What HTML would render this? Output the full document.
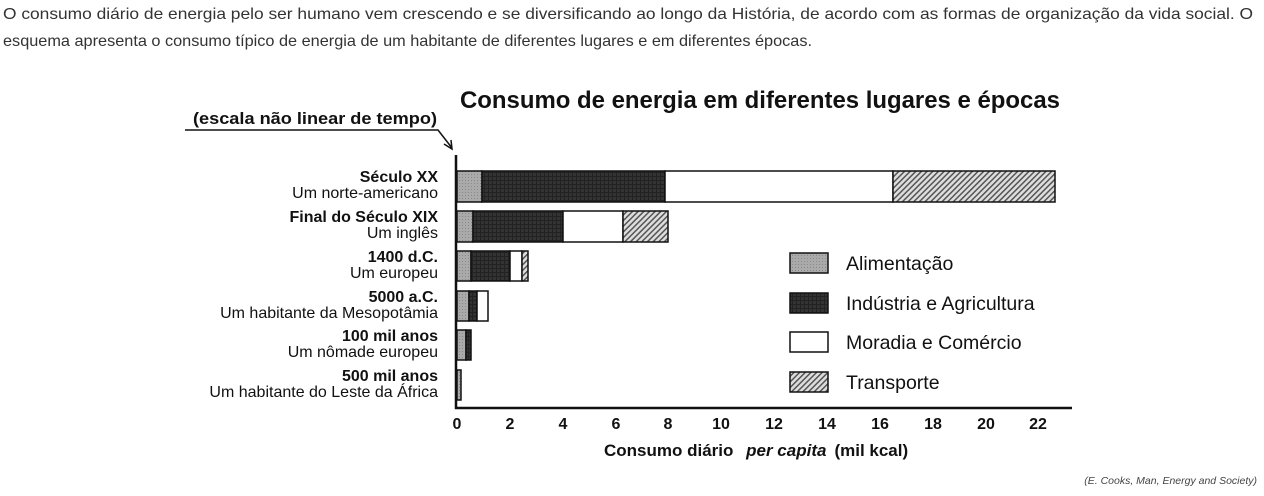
<!DOCTYPE html>
<html><head><meta charset="utf-8"><style>
html,body{margin:0;padding:0;background:#fff;}
svg{display:block;}
</style></head><body>
<svg width="1264" height="496" viewBox="0 0 1264 496" xmlns="http://www.w3.org/2000/svg">
<defs>
<pattern id="g" width="3" height="3" patternUnits="userSpaceOnUse"><rect width="3" height="3" fill="#aaa"/><rect width="1" height="1" fill="#888"/></pattern>
<pattern id="d" width="4" height="4" patternUnits="userSpaceOnUse"><rect width="4" height="4" fill="#333"/><rect width="4" height="1" fill="#222"/><rect width="1" height="4" fill="#222"/></pattern>
<pattern id="h" width="4" height="4" patternUnits="userSpaceOnUse" patternTransform="rotate(45)"><rect width="4" height="4" fill="#ddd"/><rect width="1.5" height="4" fill="#555"/></pattern>
</defs>
<g font-family="Liberation Sans, sans-serif" fill="#333" font-size="16">
<text x="3" y="19" textLength="1250" lengthAdjust="spacingAndGlyphs">O consumo diário de energia pelo ser humano vem crescendo e se diversificando ao longo da História, de acordo com as formas de organização da vida social. O</text>
<text x="3" y="46" textLength="809" lengthAdjust="spacingAndGlyphs">esquema apresenta o consumo típico de energia de um habitante de diferentes lugares e em diferentes épocas.</text>
</g>
<g font-family="Liberation Sans, sans-serif" fill="#111">
<text x="460" y="108" font-size="24" font-weight="bold" textLength="600" lengthAdjust="spacingAndGlyphs">Consumo de energia em diferentes lugares e  épocas</text>
<text x="193" y="124" font-size="17" font-weight="bold" textLength="244" lengthAdjust="spacingAndGlyphs">(escala não linear de  tempo)</text>
</g>
<path d="M185 130 H438 L452 148 M444 144 L452 149 L451 140" stroke="#111" stroke-width="1.5" fill="none"/>
<g font-family="Liberation Sans, sans-serif" fill="#111" font-size="16" text-anchor="end">
<text x="438" y="182" font-weight="bold">Século XX</text><text x="438" y="198">Um norte-americano</text>
<text x="438" y="222" font-weight="bold">Final do Século XIX</text><text x="438" y="238">Um inglês</text>
<text x="438" y="262" font-weight="bold">1400 d.C.</text><text x="438" y="278">Um europeu</text>
<text x="438" y="302" font-weight="bold">5000 a.C.</text><text x="438" y="318">Um habitante da Mesopotâmia</text>
<text x="438" y="341" font-weight="bold">100 mil anos</text><text x="438" y="357">Um nômade europeu</text>
<text x="438" y="381" font-weight="bold">500 mil anos</text><text x="438" y="397">Um habitante do Leste da África</text>
</g>
<g stroke="#111" stroke-width="1.5">
<rect x="457" y="171" width="25" height="31" fill="url(#g)"/>
<rect x="482" y="171" width="183" height="31" fill="url(#d)"/>
<rect x="665" y="171" width="228" height="31" fill="#fff"/>
<rect x="893" y="171" width="162" height="31" fill="url(#h)"/>
<rect x="457" y="211" width="16" height="31" fill="url(#g)"/>
<rect x="473" y="211" width="90" height="31" fill="url(#d)"/>
<rect x="563" y="211" width="60" height="31" fill="#fff"/>
<rect x="623" y="211" width="45" height="31" fill="url(#h)"/>
<rect x="457" y="251" width="14" height="30" fill="url(#g)"/>
<rect x="471" y="251" width="39" height="30" fill="url(#d)"/>
<rect x="510" y="251" width="12" height="30" fill="#fff"/>
<rect x="522" y="251" width="6" height="30" fill="url(#h)"/>
<rect x="457" y="291" width="12" height="30" fill="url(#g)"/>
<rect x="469" y="291" width="8" height="30" fill="url(#d)"/>
<rect x="477" y="291" width="11" height="30" fill="#fff"/>
<rect x="457" y="330" width="9" height="30" fill="url(#g)"/>
<rect x="466" y="330" width="5" height="30" fill="url(#d)"/>
<rect x="457" y="370" width="4" height="30" fill="url(#g)"/>
<rect x="790" y="253" width="38" height="20" fill="url(#g)"/>
<rect x="790" y="293" width="38" height="20" fill="url(#d)"/>
<rect x="790" y="332" width="38" height="20" fill="#fff"/>
<rect x="790" y="372" width="38" height="20" fill="url(#h)"/>
</g>
<path d="M456 155 V408 H1072" stroke="#111" stroke-width="2.5" fill="none"/>
<g font-family="Liberation Sans, sans-serif" fill="#111" font-size="19.5">
<text x="846" y="270">Alimentação</text>
<text x="846" y="310">Indústria e Agricultura</text>
<text x="846" y="349">Moradia e Comércio</text>
<text x="846" y="389">Transporte</text>
</g>
<g font-family="Liberation Sans, sans-serif" fill="#111" font-size="16" font-weight="bold" text-anchor="middle">
<text x="457" y="429">0</text><text x="510" y="429">2</text><text x="563" y="429">4</text><text x="616" y="429">6</text><text x="668" y="429">8</text><text x="721" y="429">10</text><text x="774" y="429">12</text><text x="827" y="429">14</text><text x="880" y="429">16</text><text x="933" y="429">18</text><text x="986" y="429">20</text><text x="1038" y="429">22</text>
</g>
<text x="604" y="456" font-family="Liberation Sans, sans-serif" font-size="17" font-weight="bold" fill="#111">Consumo diário <tspan font-style="italic" dx="8">per capita</tspan><tspan dx="8">(mil kcal)</tspan></text>
<text x="1257" y="484" text-anchor="end" font-family="Liberation Sans, sans-serif" font-size="10.5" font-style="italic" fill="#444">(E. Cooks, Man, Energy and Society)</text>
</svg>
</body></html>
